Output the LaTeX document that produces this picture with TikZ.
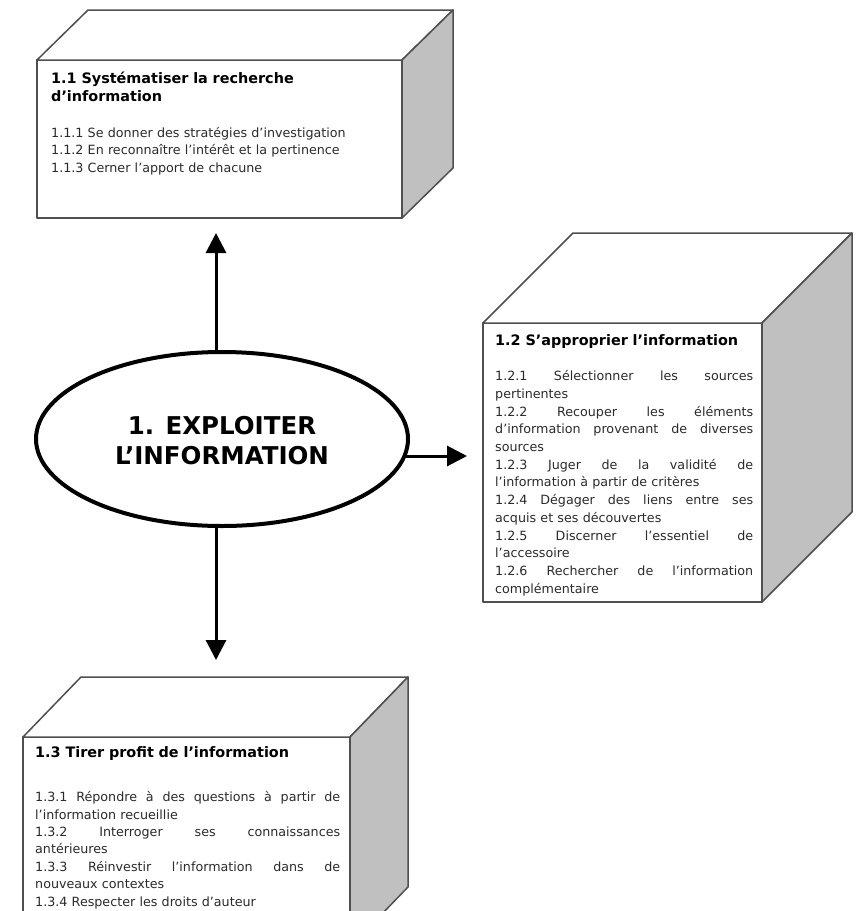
\documentclass[tikz,border=0pt]{standalone}
\usepackage{fontspec}
\setmainfont{DejaVu Sans}
\usetikzlibrary{arrows.meta,calc,shapes.geometric}

\definecolor{edgegray}{HTML}{4F4F4F}
\definecolor{sidegray}{HTML}{C0C0C0}
\definecolor{bodyink}{HTML}{2B2B2B}

% a fully justified line inside a text block
\newcommand\jl[1]{\hbox to \hsize{\spaceskip=0.318em plus 20em\relax #1}}
% top and right faces of a box whose front face is node #1, depth (#2,#3)
\newcommand\cubefaces[3]{%
  \draw[edge,fill=white] (#1.north west) -- ++(#2,#3) -- ($(#1.north east)+(#2,#3)$) -- (#1.north east) -- cycle;
  \draw[edge,fill=sidegray] (#1.north east) -- ++(#2,#3) -- ($(#1.south east)+(#2,#3)$) -- (#1.south east) -- cycle;
}

\tikzset{
  edge/.style={draw=edgegray, line width=1.5pt, line join=round},
  face/.style={edge, fill=white, rectangle, inner sep=0pt, outer sep=0pt},
  ttl/.style={anchor=base west, inner sep=0pt, text width=340pt, align=left, text=black,
    font=\fontsize{14.4}{18.5}\selectfont\bfseries},
  body/.style={anchor=base west, inner sep=0pt, text width=#1, align=left, text=bodyink,
    font=\fontsize{12.7}{17.7}\selectfont},
  hub/.style={ellipse, draw=black, line width=4pt, fill=white, inner sep=0pt,
    minimum width=372pt, minimum height=174pt, align=center,
    font=\fontsize{24.5}{30}\selectfont\bfseries},
  arr/.style={draw=black, line width=3pt, -{Triangle[length=20pt,width=20pt]}},
}

\begin{document}
\begin{tikzpicture}[x=1pt,y=-1pt]
\useasboundingbox (0,0) rectangle (859,911);
\clip (0,0) rectangle (859,911);

% 1.1
\node[face, minimum width=365pt, minimum height=158pt] (b1) at (219.5,139) {};
\cubefaces{b1}{51}{-50}
\node[ttl] (t1) at (51,83) {1.1 Systématiser la recherche\\d'information};
\node[body=337pt] (l1) at (51,137) {1.1.1 Se donner des stratégies d'investigation\\
1.1.2 En reconnaître l'intérêt et la pertinence\\
1.1.3 Cerner l'apport de chacune};

% 1.2
\node[face, minimum width=279pt, minimum height=279pt] (b2) at (622.5,462.5) {};
\cubefaces{b2}{90}{-90}
\node[ttl] (t2) at (495,345) {1.2 S'approprier l'information};
\node[body=258pt] (l2) at (495,380.7) {\jl{1.2.1 Sélectionner les sources}
pertinentes\\
\jl{1.2.2 Recouper les éléments}
\jl{d'information provenant de diverses}
sources\\
\jl{1.2.3 Juger de la validité de}
l'information à partir de critères\\
\jl{1.2.4 Dégager des liens entre ses}
acquis et ses découvertes\\
\jl{1.2.5 Discerner l'essentiel de}
l'accessoire\\
\jl{1.2.6 Rechercher de l'information}
complémentaire};

% 1.3
\node[face, minimum width=327pt, minimum height=210pt] (b3) at (186.5,842) {};
\cubefaces{b3}{58}{-60}
\node[ttl] (t3) at (35,757.7) {1.3 Tirer profit de l'information};
\node[body=305pt, font=\fontsize{12.7}{17.4}\selectfont] (l3) at (35,801.7) {\jl{1.3.1 Répondre à des questions à partir de}
l'information recueillie\\
\jl{1.3.2 Interroger ses connaissances}
antérieures\\
\jl{1.3.3 Réinvestir l'information dans de}
nouveaux contextes\\
1.3.4 Respecter les droits d'auteur};

% central ellipse and its three arrows
\coordinate (upend) at (216,233);
\coordinate (downend) at (216,660);
\coordinate (rightend) at (467,456);
\node[hub] (ell) at (222,439) {\rule{0pt}{22pt}1. EXPLOITER\\L'INFORMATION};
\draw[arr] (upend |- ell.north) -- (upend);
\draw[arr] (downend |- ell.south) -- (downend);
\draw[arr] ($(ell.center)+(182,17)$) -- (rightend);
\end{tikzpicture}
\end{document}
